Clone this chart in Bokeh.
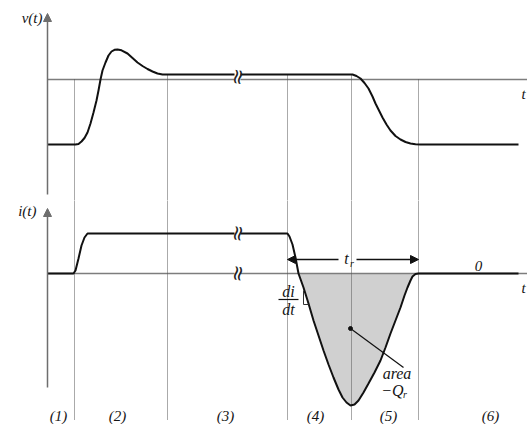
import numpy as np
from bokeh.plotting import figure
from bokeh.layouts import column
from bokeh.models import Range1d, Arrow, NormalHead
from bokeh.core.properties import value
from bokeh.embed import file_html
from bokeh.resources import INLINE

# ---------------- data (arbitrary time / amplitude units) ----------------
v_time = [0, 2.8, 3.1, 3.4, 3.7, 4.0, 4.3, 4.6, 4.9, 5.1, 5.3, 5.5, 5.8, 6.1, 6.4, 6.7,
          7.0, 7.4, 8.0, 8.5, 9.0, 9.5, 10.0, 10.5, 11.0, 11.5, 12.0,
          30.5, 30.9, 31.3, 31.7, 32.1, 32.5, 32.8, 33.2, 33.5, 33.9, 34.3, 34.8, 35.3,
          35.8, 36.3, 36.8, 37.3, 47.1]
v_vals = [-6.5, -6.5, -6.45, -6.2, -5.85, -5.3, -4.4, -3.3, -2.1, -1.1, 0, 0.9, 1.7, 2.4, 2.8, 2.97,
          3.0, 2.92, 2.6, 2.15, 1.7, 1.35, 1.05, 0.8, 0.6, 0.5, 0.5,
          0.5, 0.35, 0.1, -0.35, -0.9, -1.7, -2.4, -3.2, -3.8, -4.5, -5.1, -5.65, -6.0,
          -6.25, -6.4, -6.48, -6.5, -6.5]

i_time = [0, 2.6, 2.8, 3.1, 3.4, 3.7, 4.0, 24.0, 24.2, 24.5, 24.8, 25.1, 25.6, 26.1, 26.6,
          27.1, 27.6, 28.1, 28.6, 29.1, 29.5, 29.9, 30.3, 30.7, 31.1, 31.6, 32.1, 32.7,
          33.3, 33.8, 34.3, 34.8, 35.3, 35.7, 36.0, 36.3, 36.5, 36.8, 37.1, 47.1]
i_vals = [0, 0, 0.3, 1.5, 2.8, 3.6, 4.0, 4.0, 3.7, 2.9, 1.6, 0.0, -1.4, -3.0, -4.7,
          -6.2, -7.7, -9.1, -10.4, -11.6, -12.4, -12.9, -13.2, -13.1, -12.7, -11.9, -11.0, -9.9,
          -8.7, -7.4, -6.0, -4.7, -3.4, -2.2, -1.4, -0.7, -0.3, -0.05, 0, 0]

event_times = [2.7, 12.0, 24.0, 30.4, 37.1]
break_time = 19.0
region_labels = ["(1)", "(2)", "(3)", "(4)", "(5)", "(6)"]
region_centers = [1.1, 7.0, 17.8, 26.8, 34.1, 44.3]

# ---------------- styling ----------------
SERIF = value("Liberation Serif")
AX = "#6e6e6e"
ZERO = "#7d7d7d"
CURVE = "#111111"
DOT = "#555555"
X0, X1 = -4.7, 48.0
TOP_Y = (-12.1, 7.9)
BOT_Y = (-15.1, 7.3)


def base(h, yr):
    p = figure(width=527, height=h, x_range=Range1d(X0, X1), y_range=Range1d(*yr),
               output_backend="svg", toolbar_location=None, min_border=0,
               x_axis_location=None, y_axis_location=None)
    p.grid.visible = False
    p.outline_line_color = None
    return p


def label(p, x, y, txt, size="15px", align="center", italic=True):
    p.text(x=[x], y=[y], text=[txt], text_font=SERIF,
           text_font_style="italic" if italic else "normal",
           text_font_size=size, text_align=align, text_baseline="middle",
           text_color="#151515")


def brk(p, y, h):
    p.rect(x=[break_time], y=[y], width=0.6, height=h, fill_color="white",
           line_color=None)
    p.text(x=[break_time], y=[y], text=["\u2248"], text_font=value("DejaVu Sans"),
           text_font_size="21px", angle=1.4, text_align="center",
           text_baseline="middle", text_color="#222222")


ev = np.array(event_times)

# ---------------- top: v(t) ----------------
top = base(200, TOP_Y)
top.segment(x0=[0], y0=[0], x1=[X1], y1=[0], line_color=ZERO, line_width=1.5)
v_at = np.maximum(np.interp(ev, v_time, v_vals), 0)
top.segment(x0=ev, y0=v_at, x1=ev, y1=TOP_Y[0], line_color=DOT, line_width=1,
            line_dash="1 1")
top.line(v_time, v_vals, line_color=CURVE, line_width=2)
top.add_layout(Arrow(x_start=0, y_start=-11.5, x_end=0, y_end=6.6, line_color=AX,
                     line_width=1.5,
                     end=NormalHead(size=8, fill_color=AX, line_color=AX)))
brk(top, 0.25, 1.3)
label(top, -0.5, 6.2, "v(t)", align="right")
label(top, 47.6, -1.4, "t")

# ---------------- bottom: i(t) ----------------
bot = base(224, BOT_Y)
bot.varea(x=i_time, y1=0, y2=np.minimum(np.array(i_vals), 0), fill_color="#d0d0d0")
bot.segment(x0=[0], y0=[0], x1=[X1], y1=[0], line_color=ZERO, line_width=1.5)
bot.segment(x0=ev, y0=BOT_Y[1], x1=ev, y1=-14.7, line_color=DOT, line_width=1,
            line_dash="1 1")
bot.line(i_time, i_vals, line_color=CURVE, line_width=2)
bot.add_layout(Arrow(x_start=0, y_start=-11.4, x_end=0, y_end=6.5, line_color=AX,
                     line_width=1.5,
                     end=NormalHead(size=8, fill_color=AX, line_color=AX)))
brk(bot, 4.0, 1.2)
brk(bot, 0.0, 1.2)
label(bot, -1.1, 6.3, "i(t)", align="right")
label(bot, 47.6, -1.4, "t")
label(bot, 43.1, 0.8, "0")

# t_r arrow
ya = 1.4
bot.add_layout(Arrow(x_start=29.1, y_start=ya, x_end=ev[2], y_end=ya, line_color=CURVE,
                     line_width=1.3,
                     end=NormalHead(size=8, fill_color=CURVE, line_color=CURVE)))
bot.add_layout(Arrow(x_start=30.9, y_start=ya, x_end=ev[4], y_end=ya, line_color=CURVE,
                     line_width=1.3,
                     end=NormalHead(size=8, fill_color=CURVE, line_color=CURVE)))
label(bot, 29.9, ya + 0.1, "t", size="16px")
label(bot, 30.45, ya - 0.4, "r", size="10px")

# di/dt
label(bot, 24.1, -1.75, "di", size="16px")
bot.segment(x0=[23.1], y0=[-2.6], x1=[25.1], y1=[-2.6], line_color=CURVE, line_width=1.2)
label(bot, 24.1, -3.55, "dt", size="16px")
bot.line([25.6, 25.6, 26.1], [-1.7, -3.1, -3.1], line_color="#333333", line_width=1)

# area pointer
bot.scatter(x=[30.3], y=[-5.5], size=4, fill_color=CURVE, line_color=CURVE)
bot.segment(x0=[30.3], y0=[-5.5], x1=[35.6], y1=[-9.4], line_color=CURVE, line_width=1.2)
label(bot, 34.95, -10.0, "area", size="16px")
label(bot, 34.5, -11.7, "\u2212Q", size="16px")
label(bot, 35.75, -12.05, "r", size="10px")

# region labels
for c, t in zip(region_centers, region_labels):
    label(bot, c, -14.2, t, size="15px")

layout = column(top, bot, spacing=0)
open("out.html", "w").write(file_html(layout, INLINE))
